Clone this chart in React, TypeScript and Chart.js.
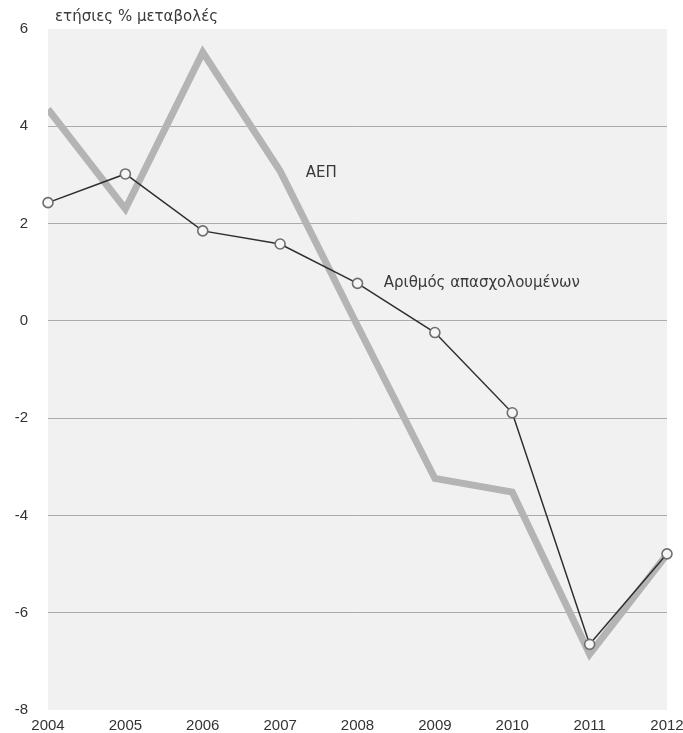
import React, { useEffect, useRef } from "react";
import { Chart, registerables } from "chart.js";

Chart.register(...registerables);

const years = [2004, 2005, 2006, 2007, 2008, 2009, 2010, 2011, 2012];
const gdp = [4.35, 2.3, 5.52, 3.08, -0.1, -3.24, -3.52, -6.85, -4.8];
const employment = [2.43, 3.02, 1.85, 1.58, 0.77, -0.24, -1.89, -6.65, -4.79];
const yTicks = [6, 4, 2, 0, -2, -4, -6, -8];
const titleText = "ετήσιες % μεταβολές";
const gdpLabel = "ΑΕΠ";
const empLabel = "Αριθμός απασχολουμένων";

const FONT = "'Liberation Sans', Arial, sans-serif";
const TEXT_FONT = "'DejaVu Sans', 'Liberation Sans', sans-serif";

const decorPlugin = {
  id: "decor",
  beforeDraw(chart: any) {
    const { ctx, chartArea } = chart;
    ctx.save();
    ctx.fillStyle = "#f1f1f1";
    ctx.fillRect(chartArea.left, chartArea.top, chartArea.right - chartArea.left, chartArea.bottom - chartArea.top);
    ctx.restore();
  },
  afterDraw(chart: any) {
    const { ctx, chartArea, scales } = chart;
    ctx.save();
    ctx.fillStyle = "#3a3a3a";
    ctx.font = `15px ${TEXT_FONT}`;
    ctx.textBaseline = "middle";
    ctx.textAlign = "left";
    ctx.fillText(titleText, chartArea.left + 7, chartArea.top - 12);
    ctx.fillText(gdpLabel, scales.x.getPixelForValue(2007.33), scales.y.getPixelForValue(3.04));
    ctx.fillText(empLabel, scales.x.getPixelForValue(2008.34), scales.y.getPixelForValue(0.77));
    ctx.restore();
  },
};

export default function App() {
  const ref = useRef<HTMLCanvasElement>(null);
  useEffect(() => {
    if (!ref.current) return;
    const chart = new Chart(ref.current, {
      type: "line",
      data: {
        datasets: [
          {
            label: "Αριθμός απασχολουμένων",
            data: years.map((y, i) => ({ x: y, y: employment[i] })),
            borderColor: "#2e2e2e",
            borderWidth: 1.5,
            pointRadius: 5,
            pointBackgroundColor: "#f6f6f6",
            pointBorderColor: "#6e6e6e",
            pointBorderWidth: 1.6,
            tension: 0,
            clip: false,
          },
          {
            label: "ΑΕΠ",
            data: years.map((y, i) => ({ x: y, y: gdp[i] })),
            borderColor: "#b4b4b4",
            borderWidth: 7,
            pointRadius: 0,
            borderJoinStyle: "miter",
            tension: 0,
          },
        ],
      },
      options: {
        animation: false,
        responsive: false,
        layout: { padding: { top: 29, right: 16, left: 0, bottom: 0 } },
        plugins: { legend: { display: false }, tooltip: { enabled: false } },
        scales: {
          x: {
            type: "linear",
            min: 2004,
            max: 2012,
            afterBuildTicks: (s: any) => {
              s.ticks = years.map((v) => ({ value: v }));
            },
            afterFit: (s: any) => {
              s.height = 23;
              s.paddingLeft = 0;
              s.paddingRight = 0;
            },
            grid: { display: false, drawTicks: false },
            border: { display: false },
            ticks: {
              padding: 7,
              color: "#333",
              font: { family: FONT, size: 15 },
              callback: (v: any) => String(v),
              maxRotation: 0,
              autoSkip: false,
            },
          },
          y: {
            min: -8,
            max: 6,
            afterBuildTicks: (s: any) => {
              s.ticks = yTicks.map((v) => ({ value: v }));
            },
            afterFit: (s: any) => {
              s.width = 48;
              s.paddingTop = 0;
              s.paddingBottom = 0;
            },
            grid: {
              drawTicks: false,
              color: (c: any) => (c.tick && (c.tick.value === 6 || c.tick.value === -8) ? "rgba(0,0,0,0)" : "#ababab"),
              lineWidth: 1,
            },
            border: { display: false },
            ticks: {
              padding: 20,
              color: "#333",
              font: { family: FONT, size: 15 },
              callback: (v: any) => String(v),
            },
          },
        },
      },
      plugins: [decorPlugin],
    } as any);
    return () => chart.destroy();
  }, []);
  return (
    <div style={{ position: "fixed", left: 0, top: 0, width: 683, height: 733, background: "#fff" }}>
      <canvas ref={ref} width={683} height={733} style={{ width: 683, height: 733 }} />
    </div>
  );
}
